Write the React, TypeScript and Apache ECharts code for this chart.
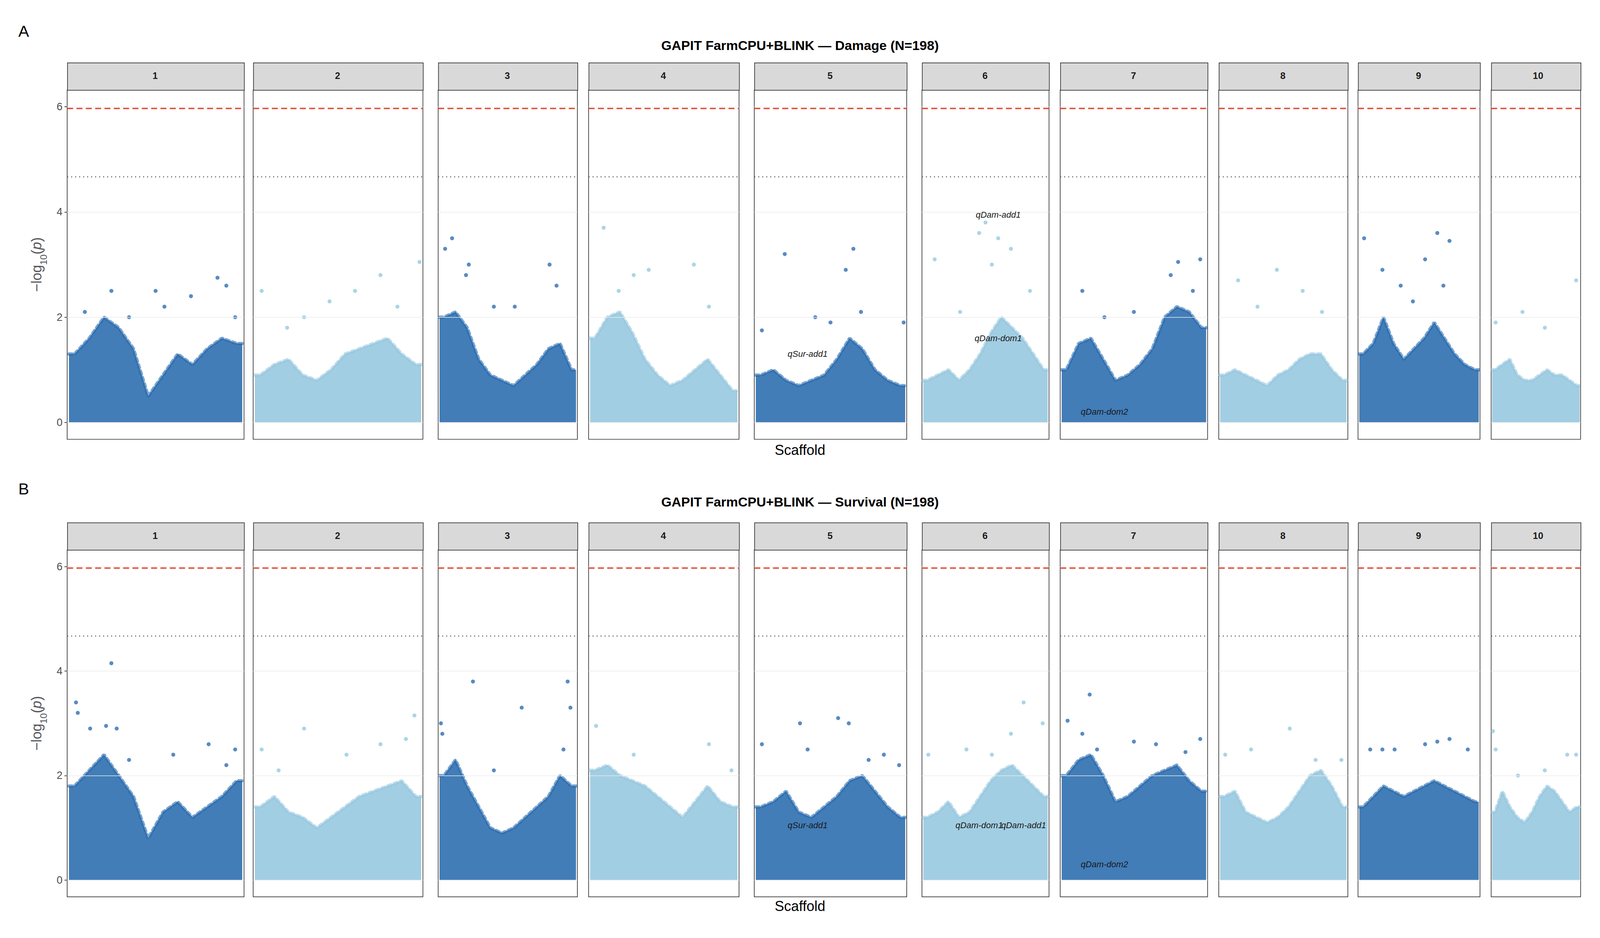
import React, { useEffect, useRef } from "react";
import * as echarts from "echarts";

const chromosomes = ["1", "2", "3", "4", "5", "6", "7", "8", "9", "10"];
// panel x-extents in reference pixels (1568-wide layout)
const panelX = [[63, 237], [246, 413], [428, 565], [576, 724], [739, 889], [904, 1029], [1040, 1185], [1196, 1323], [1333, 1453], [1464, 1552]];
const yTicks = [0, 2, 4, 6];
const sigLine = 5.97;
const suggestiveLine = 4.67;

// upper envelope of the dense point cloud, 12 bins per chromosome
const damageBand = [
  [1.3, 1.6, 2.0, 1.8, 1.4, 0.5, 0.9, 1.3, 1.1, 1.4, 1.6, 1.5],
  [0.9, 1.1, 1.2, 0.9, 0.8, 1.0, 1.3, 1.4, 1.5, 1.6, 1.3, 1.1],
  [2.0, 2.1, 1.8, 1.2, 0.9, 0.8, 0.7, 0.9, 1.1, 1.4, 1.5, 1.0],
  [1.6, 2.0, 2.1, 1.7, 1.2, 0.9, 0.7, 0.8, 1.0, 1.2, 0.9, 0.6],
  [0.9, 1.0, 0.8, 0.7, 0.8, 0.9, 1.2, 1.6, 1.4, 1.0, 0.8, 0.7],
  [0.8, 0.9, 1.0, 0.8, 1.0, 1.3, 1.7, 2.0, 1.8, 1.6, 1.3, 1.0],
  [1.0, 1.5, 1.6, 1.2, 0.8, 0.9, 1.1, 1.4, 2.0, 2.2, 2.1, 1.8],
  [0.9, 1.0, 0.9, 0.8, 0.7, 0.9, 1.0, 1.2, 1.3, 1.3, 1.0, 0.8],
  [1.3, 1.5, 2.0, 1.5, 1.2, 1.4, 1.6, 1.9, 1.6, 1.3, 1.1, 1.0],
  [1.0, 1.1, 1.2, 0.9, 0.8, 0.8, 0.9, 1.0, 0.9, 0.9, 0.8, 0.7],
];
const survivalBand = [
  [1.8, 2.1, 2.4, 2.0, 1.6, 0.8, 1.3, 1.5, 1.2, 1.4, 1.6, 1.9],
  [1.4, 1.6, 1.3, 1.2, 1.0, 1.2, 1.4, 1.6, 1.7, 1.8, 1.9, 1.6],
  [2.0, 2.3, 1.8, 1.4, 1.0, 0.9, 1.0, 1.2, 1.4, 1.6, 2.0, 1.8],
  [2.1, 2.2, 2.0, 1.9, 1.8, 1.6, 1.4, 1.2, 1.5, 1.8, 1.5, 1.4],
  [1.4, 1.5, 1.7, 1.3, 1.2, 1.4, 1.6, 1.9, 2.0, 1.7, 1.4, 1.2],
  [1.2, 1.3, 1.5, 1.2, 1.3, 1.6, 1.9, 2.1, 2.2, 2.0, 1.8, 1.6],
  [2.0, 2.3, 2.4, 2.0, 1.5, 1.6, 1.8, 2.0, 2.1, 2.2, 1.9, 1.7],
  [1.6, 1.7, 1.3, 1.2, 1.1, 1.2, 1.4, 1.7, 2.0, 2.1, 1.8, 1.4],
  [1.4, 1.6, 1.8, 1.7, 1.6, 1.7, 1.8, 1.9, 1.8, 1.7, 1.6, 1.5],
  [1.3, 1.7, 1.4, 1.2, 1.1, 1.3, 1.6, 1.8, 1.7, 1.5, 1.3, 1.4],
];

// isolated points above the cloud: [relative position, -log10 p]
const damagePeaks = [
  [[0.1, 2.1], [0.25, 2.5], [0.35, 2.0], [0.5, 2.5], [0.55, 2.2], [0.7, 2.4], [0.85, 2.75], [0.9, 2.6], [0.95, 2.0]],
  [[0.05, 2.5], [0.2, 1.8], [0.3, 2.0], [0.45, 2.3], [0.6, 2.5], [0.75, 2.8], [0.85, 2.2], [0.98, 3.05]],
  [[0.05, 3.3], [0.1, 3.5], [0.2, 2.8], [0.22, 3.0], [0.4, 2.2], [0.55, 2.2], [0.8, 3.0], [0.85, 2.6]],
  [[0.1, 3.7], [0.2, 2.5], [0.3, 2.8], [0.4, 2.9], [0.7, 3.0], [0.8, 2.2]],
  [[0.05, 1.75], [0.2, 3.2], [0.4, 2.0], [0.5, 1.9], [0.6, 2.9], [0.65, 3.3], [0.7, 2.1], [0.98, 1.9]],
  [[0.1, 3.1], [0.3, 2.1], [0.45, 3.6], [0.5, 3.8], [0.55, 3.0], [0.6, 3.5], [0.7, 3.3], [0.85, 2.5]],
  [[0.15, 2.5], [0.3, 2.0], [0.5, 2.1], [0.75, 2.8], [0.8, 3.05], [0.9, 2.5], [0.95, 3.1]],
  [[0.15, 2.7], [0.3, 2.2], [0.45, 2.9], [0.65, 2.5], [0.8, 2.1]],
  [[0.05, 3.5], [0.2, 2.9], [0.35, 2.6], [0.45, 2.3], [0.55, 3.1], [0.65, 3.6], [0.7, 2.6], [0.75, 3.45]],
  [[0.05, 1.9], [0.35, 2.1], [0.6, 1.8], [0.95, 2.7]],
];
const survivalPeaks = [
  [[0.05, 3.4], [0.06, 3.2], [0.13, 2.9], [0.22, 2.95], [0.25, 4.15], [0.28, 2.9], [0.35, 2.3], [0.6, 2.4], [0.8, 2.6], [0.9, 2.2], [0.95, 2.5]],
  [[0.05, 2.5], [0.15, 2.1], [0.3, 2.9], [0.55, 2.4], [0.75, 2.6], [0.9, 2.7], [0.95, 3.15]],
  [[0.02, 3.0], [0.03, 2.8], [0.25, 3.8], [0.4, 2.1], [0.6, 3.3], [0.9, 2.5], [0.93, 3.8], [0.95, 3.3]],
  [[0.05, 2.95], [0.3, 2.4], [0.8, 2.6], [0.95, 2.1]],
  [[0.05, 2.6], [0.3, 3.0], [0.35, 2.5], [0.55, 3.1], [0.62, 3.0], [0.75, 2.3], [0.85, 2.4], [0.95, 2.2]],
  [[0.05, 2.4], [0.35, 2.5], [0.55, 2.4], [0.7, 2.8], [0.8, 3.4], [0.95, 3.0]],
  [[0.05, 3.05], [0.15, 2.8], [0.2, 3.55], [0.25, 2.5], [0.5, 2.65], [0.65, 2.6], [0.85, 2.45], [0.95, 2.7]],
  [[0.05, 2.4], [0.25, 2.5], [0.55, 2.9], [0.75, 2.3], [0.95, 2.3]],
  [[0.1, 2.5], [0.2, 2.5], [0.3, 2.5], [0.55, 2.6], [0.65, 2.65], [0.75, 2.7], [0.9, 2.5]],
  [[0.02, 2.85], [0.05, 2.5], [0.3, 2.0], [0.6, 2.1], [0.85, 2.4], [0.95, 2.4]],
];

// QTL labels: [chromosome index, position, height, text]
const damageLabels: [number, number, number, string][] = [
  [4, 0.35, 1.3, "qSur-add1"], [5, 0.6, 3.95, "qDam-add1"], [5, 0.6, 1.6, "qDam-dom1"], [6, 0.3, 0.2, "qDam-dom2"],
];
const survivalLabels: [number, number, number, string][] = [
  [4, 0.35, 1.05, "qSur-add1"], [5, 0.45, 1.05, "qDam-dom1"], [5, 0.8, 1.05, "qDam-add1"], [6, 0.3, 0.3, "qDam-dom2"],
];

const W = 1568;
const H = 784;
const pct = (v: number, t: number) => (v / t) * 100 + "%";
const DARK = "#2166ac";
const LIGHT = "#92c5de";

const App: React.FC = () => {
  const chartRef = useRef<HTMLDivElement | null>(null);

  useEffect(() => {
    if (!chartRef.current) return;
    const chart = echarts.init(chartRef.current, null, { renderer: "svg" });
    const cw = chart.getWidth();
    const ch = chart.getHeight();
    const k = cw / 4784; // font scale
    const f = (n: number) => Math.round(n * k);

    const panels = [
      { title: "GAPIT FarmCPU+BLINK — Damage (N=198)", letter: "A", top: 73, h: 294, band: damageBand, peaks: damagePeaks, labels: damageLabels, titleY: 37, letterY: 25, stripY: 50, xNameY: 377 },
      { title: "GAPIT FarmCPU+BLINK — Survival (N=198)", letter: "B", top: 460, h: 292, band: survivalBand, peaks: survivalPeaks, labels: survivalLabels, titleY: 421, letterY: 410, stripY: 437, xNameY: 761 },
    ];

    const grid: any[] = [];
    const xAxis: any[] = [];
    const yAxis: any[] = [];
    const series: any[] = [];
    const graphic: any[] = [];

    panels.forEach((p, pi) => {
      graphic.push({ type: "text", left: pct(15, W), top: pct(p.letterY - 8, H), style: { text: p.letter, fontSize: f(48), fontFamily: "Liberation Sans", fill: "#000" } });
      graphic.push({ type: "text", left: "center", top: pct(p.titleY - 7, H), style: { text: p.title, fontSize: f(40), fontWeight: "bold", fontFamily: "Liberation Sans", fill: "#000" } });
      graphic.push({ type: "text", left: "center", top: pct(p.xNameY - 7, H), style: { text: "Scaffold", fontSize: f(42), fontFamily: "Liberation Sans", fill: "#000" } });

      chromosomes.forEach((chr, ci) => {
        const gi = pi * 10 + ci;
        const [x1, x2] = panelX[ci];
        const color = ci % 2 === 0 ? DARK : LIGHT;
        grid.push({ left: pct(x1, W), width: pct(x2 - x1, W), top: pct(p.top, H), height: pct(p.h, H), show: true, borderColor: "#333", borderWidth: 2 * k, backgroundColor: "#fff" });
        // strip
        graphic.push({
          type: "rect", left: pct(x1, W), top: pct(p.stripY, H), z: 5,
          shape: { width: ((x2 - x1) / W) * cw, height: (23 / H) * ch },
          style: { fill: "#d9d9d9", stroke: "#333", lineWidth: 2 * k },
        });
        graphic.push({
          type: "text", left: pct((x1 + x2) / 2 - 3, W), top: pct(p.stripY + 7, H), z: 6,
          style: { text: chr, fontSize: f(28), fontWeight: "bold", fontFamily: "Liberation Sans", fill: "#1a1a1a" },
        });
        xAxis.push({ gridIndex: gi, type: "value", min: 0, max: 1, show: false });
        yAxis.push({
          gridIndex: gi, type: "value", min: -0.32, max: 6.32,
          splitLine: { show: false },
          axisLine: { show: false },
          axisTick: { show: ci === 0, customValues: yTicks, length: f(8), lineStyle: { color: "#333", width: 2 * k } },
          axisLabel: { show: ci === 0, customValues: yTicks, fontSize: f(32), color: "#4d4d4d", fontFamily: "Liberation Sans", margin: f(14) },
          name: ci === 0 ? "{a|−log}{s|10}{a|(}{i|p}{a|)}" : "",
          nameLocation: "middle", nameGap: f(70), nameRotate: 90,
          nameTextStyle: { rich: { a: { fontSize: f(42), fontFamily: "Liberation Sans" }, s: { fontSize: f(28), fontFamily: "Liberation Sans", verticalAlign: "bottom", padding: [0, 0, -f(14), 0] }, i: { fontSize: f(42), fontStyle: "italic", fontFamily: "Liberation Sans" } } },
        });
        // background grid lines, beneath the points
        series.push({
          type: "line", xAxisIndex: gi, yAxisIndex: gi, data: [], z: 1, silent: true,
          markLine: {
            silent: true, symbol: "none", label: { show: false },
            data: yTicks.map((t) => ({ yAxis: t, lineStyle: { color: "#ebebeb", width: 2 * k, type: "solid" } })),
          },
        });
        const band = p.band[ci];
        const bandData: number[][] = [[0.01, band[0]]];
        band.forEach((v, i) => bandData.push([(i + 0.5) / band.length, v]));
        bandData.push([0.99, band[band.length - 1]]);
        series.push({
          type: "line", xAxisIndex: gi, yAxisIndex: gi, data: bandData, symbol: "none", silent: true, z: 2,
          lineStyle: { color, width: 10 * k, opacity: 0.6, type: "dotted", cap: "round" },
          areaStyle: { color, opacity: 0.85, origin: 0 },
          markLine: {
            silent: true, symbol: "none", label: { show: false },
            data: [
              { yAxis: sigLine, lineStyle: { color: "#e34a33", width: 4 * k, type: [18 * k, 10 * k] } },
              { yAxis: suggestiveLine, lineStyle: { color: "#555", width: 3 * k, type: [3 * k, 9 * k] } },
            ],
          },
        });
        series.push({
          type: "scatter", xAxisIndex: gi, yAxisIndex: gi, data: p.peaks[ci], symbolSize: 12 * k, z: 3,
          itemStyle: { color, opacity: 0.75 },
        });
      });

      series.push(...p.labels.map(([ci, x, y, t]) => ({
        type: "scatter", xAxisIndex: pi * 10 + ci, yAxisIndex: pi * 10 + ci, data: [[x, y]], symbolSize: 1, z: 10,
        itemStyle: { opacity: 0 },
        label: { show: true, position: "inside", formatter: t, fontSize: f(26), fontStyle: "italic", fontFamily: "Liberation Sans", color: "#1a1a1a", opacity: 1 },
      })));
    });

    chart.setOption({ animation: false, backgroundColor: "#fff", grid, xAxis, yAxis, series, graphic });
    return () => chart.dispose();
  }, []);

  return <div ref={chartRef} style={{ width: "calc(100vw - 16px)", height: "calc(100vh - 16px)" }} />;
};

export default App;
